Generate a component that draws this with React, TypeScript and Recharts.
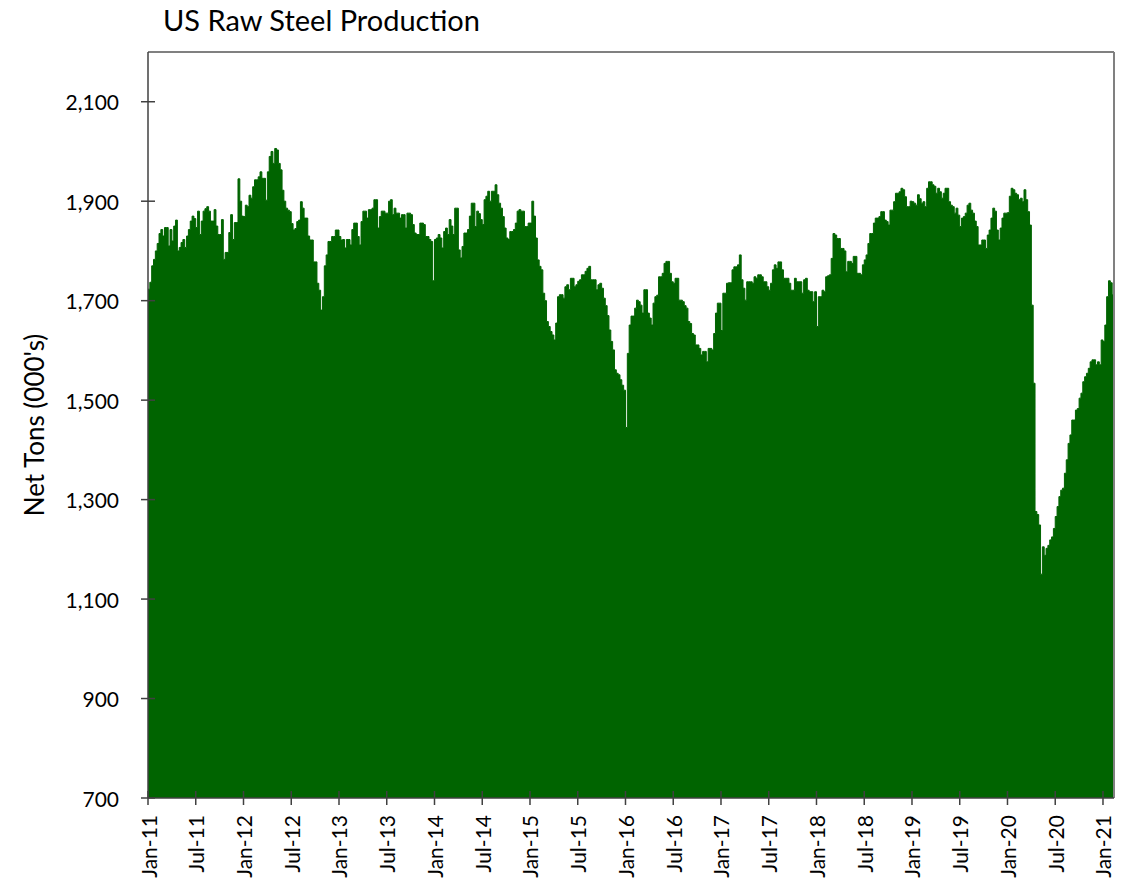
import { AreaChart, Area, XAxis, YAxis, ReferenceLine } from 'recharts'

// weekly raw steel output, thousand net tons (52 weeks per year)
const years = [2011, 2012, 2013, 2014, 2015, 2016, 2017, 2018, 2019, 2020, 2021]

const w2011 = [1723, 1737, 1770, 1783, 1800, 1815, 1835, 1843, 1830, 1847, 1847, 1810, 1843, 1820, 1850, 1862, 1800, 1807, 1817, 1823, 1807, 1830, 1843, 1860, 1870, 1865, 1847, 1880, 1833, 1860, 1880, 1885, 1889, 1880, 1860, 1860, 1883, 1850, 1833, 1833, 1863, 1783, 1797, 1797, 1837, 1873, 1823, 1857, 1857, 1945, 1900, 1870]
const w2012 = [1869, 1892, 1889, 1912, 1906, 1929, 1943, 1943, 1949, 1959, 1946, 1946, 1902, 1959, 1990, 2000, 1976, 2006, 2003, 1976, 1963, 1922, 1900, 1886, 1882, 1879, 1855, 1842, 1845, 1859, 1862, 1899, 1886, 1866, 1866, 1830, 1822, 1822, 1778, 1778, 1735, 1721, 1681, 1708, 1770, 1792, 1819, 1819, 1829, 1829, 1842, 1842]
const w2013 = [1829, 1822, 1823, 1806, 1823, 1823, 1812, 1843, 1856, 1856, 1829, 1812, 1859, 1880, 1880, 1866, 1883, 1883, 1886, 1903, 1903, 1846, 1869, 1880, 1880, 1876, 1876, 1900, 1903, 1873, 1886, 1876, 1876, 1866, 1873, 1873, 1846, 1876, 1876, 1873, 1853, 1836, 1833, 1833, 1856, 1856, 1853, 1829, 1829, 1823, 1819, 1740]
const w2014 = [1823, 1826, 1833, 1826, 1806, 1839, 1846, 1833, 1863, 1850, 1833, 1886, 1886, 1802, 1786, 1809, 1836, 1836, 1843, 1870, 1896, 1896, 1849, 1880, 1875, 1863, 1853, 1903, 1910, 1920, 1900, 1920, 1920, 1933, 1913, 1896, 1886, 1869, 1846, 1826, 1823, 1839, 1839, 1843, 1856, 1880, 1883, 1880, 1880, 1849, 1849, 1856]
const w2015 = [1856, 1900, 1870, 1826, 1782, 1769, 1762, 1715, 1700, 1658, 1648, 1638, 1631, 1621, 1655, 1708, 1712, 1712, 1705, 1728, 1732, 1722, 1745, 1745, 1728, 1732, 1739, 1742, 1752, 1752, 1759, 1765, 1769, 1742, 1742, 1742, 1722, 1732, 1735, 1725, 1705, 1690, 1670, 1641, 1618, 1601, 1561, 1554, 1551, 1541, 1530, 1520]
const w2016 = [1445, 1594, 1651, 1669, 1669, 1685, 1701, 1698, 1691, 1675, 1722, 1722, 1675, 1665, 1651, 1695, 1708, 1711, 1748, 1748, 1755, 1775, 1779, 1779, 1755, 1738, 1735, 1745, 1745, 1701, 1701, 1698, 1690, 1685, 1658, 1654, 1634, 1631, 1611, 1611, 1604, 1591, 1598, 1598, 1577, 1604, 1604, 1601, 1634, 1675, 1695, 1695]
const w2017 = [1640, 1715, 1715, 1735, 1736, 1736, 1762, 1768, 1768, 1772, 1792, 1742, 1725, 1701, 1738, 1738, 1738, 1735, 1748, 1745, 1752, 1752, 1748, 1738, 1738, 1728, 1721, 1735, 1762, 1772, 1765, 1778, 1778, 1762, 1745, 1745, 1745, 1735, 1721, 1721, 1745, 1738, 1738, 1738, 1715, 1742, 1745, 1721, 1718, 1718, 1698, 1718]
const w2018 = [1648, 1708, 1708, 1721, 1718, 1748, 1750, 1752, 1785, 1835, 1832, 1825, 1825, 1805, 1805, 1800, 1758, 1779, 1779, 1775, 1789, 1789, 1755, 1755, 1752, 1772, 1782, 1792, 1815, 1835, 1835, 1856, 1866, 1866, 1869, 1879, 1879, 1862, 1859, 1852, 1882, 1882, 1899, 1916, 1916, 1919, 1926, 1923, 1909, 1889, 1889, 1900]
const w2019 = [1899, 1896, 1892, 1913, 1905, 1896, 1899, 1889, 1926, 1939, 1939, 1933, 1930, 1916, 1926, 1919, 1906, 1916, 1926, 1926, 1899, 1892, 1889, 1876, 1886, 1872, 1849, 1866, 1869, 1876, 1892, 1896, 1882, 1876, 1860, 1849, 1812, 1812, 1822, 1822, 1805, 1832, 1842, 1866, 1886, 1880, 1842, 1822, 1846, 1866, 1876, 1876]
const w2020 = [1877, 1910, 1926, 1923, 1916, 1913, 1903, 1906, 1899, 1923, 1903, 1879, 1852, 1691, 1534, 1276, 1270, 1249, 1150, 1205, 1188, 1202, 1208, 1219, 1225, 1242, 1266, 1286, 1306, 1319, 1323, 1353, 1380, 1413, 1430, 1460, 1460, 1480, 1483, 1504, 1514, 1537, 1547, 1554, 1564, 1577, 1581, 1581, 1571, 1577, 1571, 1621]
const w2021 = [1618, 1651, 1708, 1740, 1736, 1712, 1710]

const weekly = [w2011, w2012, w2013, w2014, w2015, w2016, w2017, w2018, w2019, w2020, w2021]

const yTicks = [700, 900, 1100, 1300, 1500, 1700, 1900, 2100]
const halfYears = ['Jan', 'Jul']

const data = weekly.flatMap((vals, yi) => vals.map((v, i) => ({ t: years[yi] + i / 52, v })))
const xMax = data[data.length - 1].t
const xTicks = years.flatMap((y) => [y, y + 0.5]).filter((t) => t <= xMax)

const FONT = 'Lato, "Open Sans", sans-serif'
const AXIS = '#404040'

function fmtHalf(t: number) {
  const yr = Math.floor(t + 0.001)
  const m = t - yr > 0.25 ? halfYears[1] : halfYears[0]
  return `${m}-${String(yr).slice(2)}`
}

function YTick({ x, y, payload }: any) {
  return (
    <g>
      <line x1={x - 7} x2={x + 7} y1={y} y2={y} stroke={AXIS} strokeWidth={1.5} />
      <text x={x - 29} y={y} textAnchor="end" dominantBaseline="central" fontSize={21} fontFamily={FONT} fill="#000">
        {payload.value.toLocaleString('en-US')}
      </text>
    </g>
  )
}

function XTick({ x, y, payload }: any) {
  const ty = y + 17
  return (
    <g>
      <line x1={x} x2={x} y1={y - 7} y2={y + 7} stroke={AXIS} strokeWidth={1.5} />
      <text
        x={x}
        y={ty}
        transform={`rotate(-90 ${x} ${ty})`}
        textAnchor="end"
        dominantBaseline="central"
        fontSize={21}
        fontFamily={FONT}
        fill="#000"
      >
        {fmtHalf(payload.value)}
      </text>
    </g>
  )
}

export default function App() {
  return (
    <div style={{ position: 'absolute', left: 0, top: 0, width: 1132, height: 879, background: '#fff', overflow: 'hidden' }}>
      <div style={{ position: 'absolute', left: 163, top: 5, fontFamily: FONT, fontSize: 29, lineHeight: '29px', color: '#000' }}>
        US Raw Steel Production
      </div>
      <AreaChart width={1132} height={879} data={data} margin={{ top: 52, right: 18, bottom: 0, left: 0 }}>
        <XAxis
          dataKey="t"
          type="number"
          domain={[2011, xMax]}
          ticks={xTicks}
          interval={0}
          height={81}
          tickSize={0}
          tickMargin={0}
          tick={<XTick />}
          axisLine={{ stroke: AXIS, strokeWidth: 1.5 }}
          tickLine={false}
          allowDataOverflow
        />
        <YAxis
          type="number"
          domain={[700, 2200]}
          ticks={yTicks}
          interval={0}
          width={148}
          tickSize={0}
          tickMargin={0}
          tick={<YTick />}
          axisLine={{ stroke: AXIS, strokeWidth: 1.5 }}
          tickLine={false}
          allowDataOverflow
          label={{ value: "Net Tons (000's)", angle: -90, position: 'center', dx: -39, fontSize: 26, fontFamily: FONT, fill: '#000' }}
        />
        <Area
          type="stepAfter"
          dataKey="v"
          baseValue={700}
          stroke="#006400"
          strokeWidth={1}
          fill="#006400"
          fillOpacity={1}
          isAnimationActive={false}
          dot={false}
          activeDot={false}
        />
        <ReferenceLine y={2200} stroke="#808080" strokeWidth={2} />
        <ReferenceLine x={xMax} stroke="#808080" strokeWidth={2} />
      </AreaChart>
    </div>
  )
}
